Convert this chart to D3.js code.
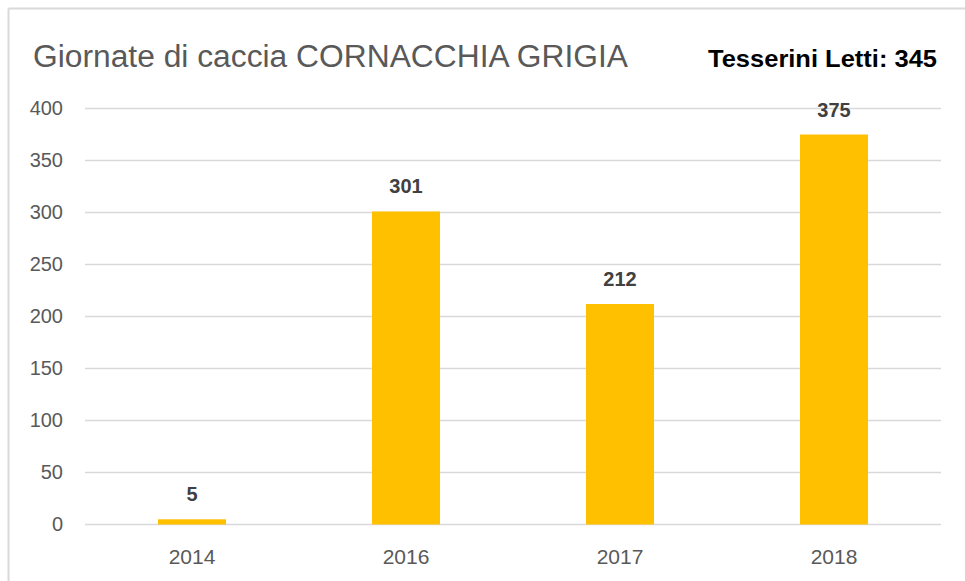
<!DOCTYPE html>
<html>
<head>
<meta charset="utf-8">
<script src="https://cdn.jsdelivr.net/npm/d3@7"></script>
<style>
  body { margin: 0; background: #fff; }
  svg text { font-family: "Liberation Sans", Arial, sans-serif; }
</style>
</head>
<body>
<div id="chart"></div>
<script>
// chart data
const years = ["2014", "2016", "2017", "2018"];
const giornate = [5, 301, 212, 375];
const yTicks = [0, 50, 100, 150, 200, 250, 300, 350, 400];

const width = 965, height = 581;

const svg = d3.select("#chart").append("svg")
  .attr("width", width)
  .attr("height", height);

// frame (only top and left edges show)
svg.append("line")
  .attr("x1", 8.5).attr("x2", width)
  .attr("y1", 8.5).attr("y2", 8.5)
  .attr("stroke", "#d9d9d9").attr("stroke-width", 2);
svg.append("line")
  .attr("x1", 8.5).attr("x2", 8.5)
  .attr("y1", 8.5).attr("y2", height)
  .attr("stroke", "#d9d9d9").attr("stroke-width", 2);

const x = d3.scaleBand()
  .domain(years)
  .range([85, 941])
  .paddingInner(0.682)
  .paddingOuter(0.341);

const y = d3.scaleLinear()
  .domain([0, 400])
  .range([524.5, 108.5]);

// gridlines
svg.append("g")
  .selectAll("line")
  .data(yTicks)
  .join("line")
  .attr("x1", 85).attr("x2", 941)
  .attr("y1", d => y(d)).attr("y2", d => y(d))
  .attr("stroke", "#d9d9d9")
  .attr("stroke-width", 1.5);

// y axis labels
const yAxis = svg.append("g")
  .attr("transform", "translate(63,0)")
  .call(d3.axisLeft(y).tickValues(yTicks).tickSize(0).tickPadding(0));
yAxis.select(".domain").remove();
yAxis.selectAll("text")
  .style("font-family", "Liberation Sans, Arial, sans-serif")
  .style("font-size", "20px")
  .attr("fill", "#595959");

// x axis labels
const xAxis = svg.append("g")
  .attr("transform", "translate(0,524.5)")
  .call(d3.axisBottom(x).tickSize(0).tickPadding(25));
xAxis.select(".domain").remove();
xAxis.selectAll("text")
  .style("font-family", "Liberation Sans, Arial, sans-serif")
  .style("font-size", "21px")
  .attr("fill", "#595959");

// bars
svg.append("g")
  .selectAll("rect")
  .data(years)
  .join("rect")
  .attr("x", d => x(d))
  .attr("width", x.bandwidth())
  .attr("y", (d, i) => y(giornate[i]))
  .attr("height", (d, i) => y(0) - y(giornate[i]))
  .attr("fill", "#ffc000");

// value labels
svg.append("g")
  .selectAll("text")
  .data(years)
  .join("text")
  .attr("x", d => x(d) + x.bandwidth() / 2)
  .attr("y", (d, i) => y(giornate[i]) - 18)
  .attr("text-anchor", "middle")
  .style("font-size", "20px")
  .style("font-weight", "bold")
  .attr("fill", "#404040")
  .text((d, i) => giornate[i]);

// title
svg.append("text")
  .attr("x", 33)
  .attr("y", 67)
  .style("font-size", "31px")
  .attr("fill", "#595959")
  .attr("textLength", 595)
  .attr("lengthAdjust", "spacingAndGlyphs")
  .text("Giornate di caccia CORNACCHIA GRIGIA");

svg.append("text")
  .attr("x", 708)
  .attr("y", 67)
  .style("font-size", "24px")
  .style("font-weight", "bold")
  .attr("fill", "#000")
  .attr("textLength", 229)
  .attr("lengthAdjust", "spacingAndGlyphs")
  .text("Tesserini Letti: 345");
</script>
</body>
</html>
